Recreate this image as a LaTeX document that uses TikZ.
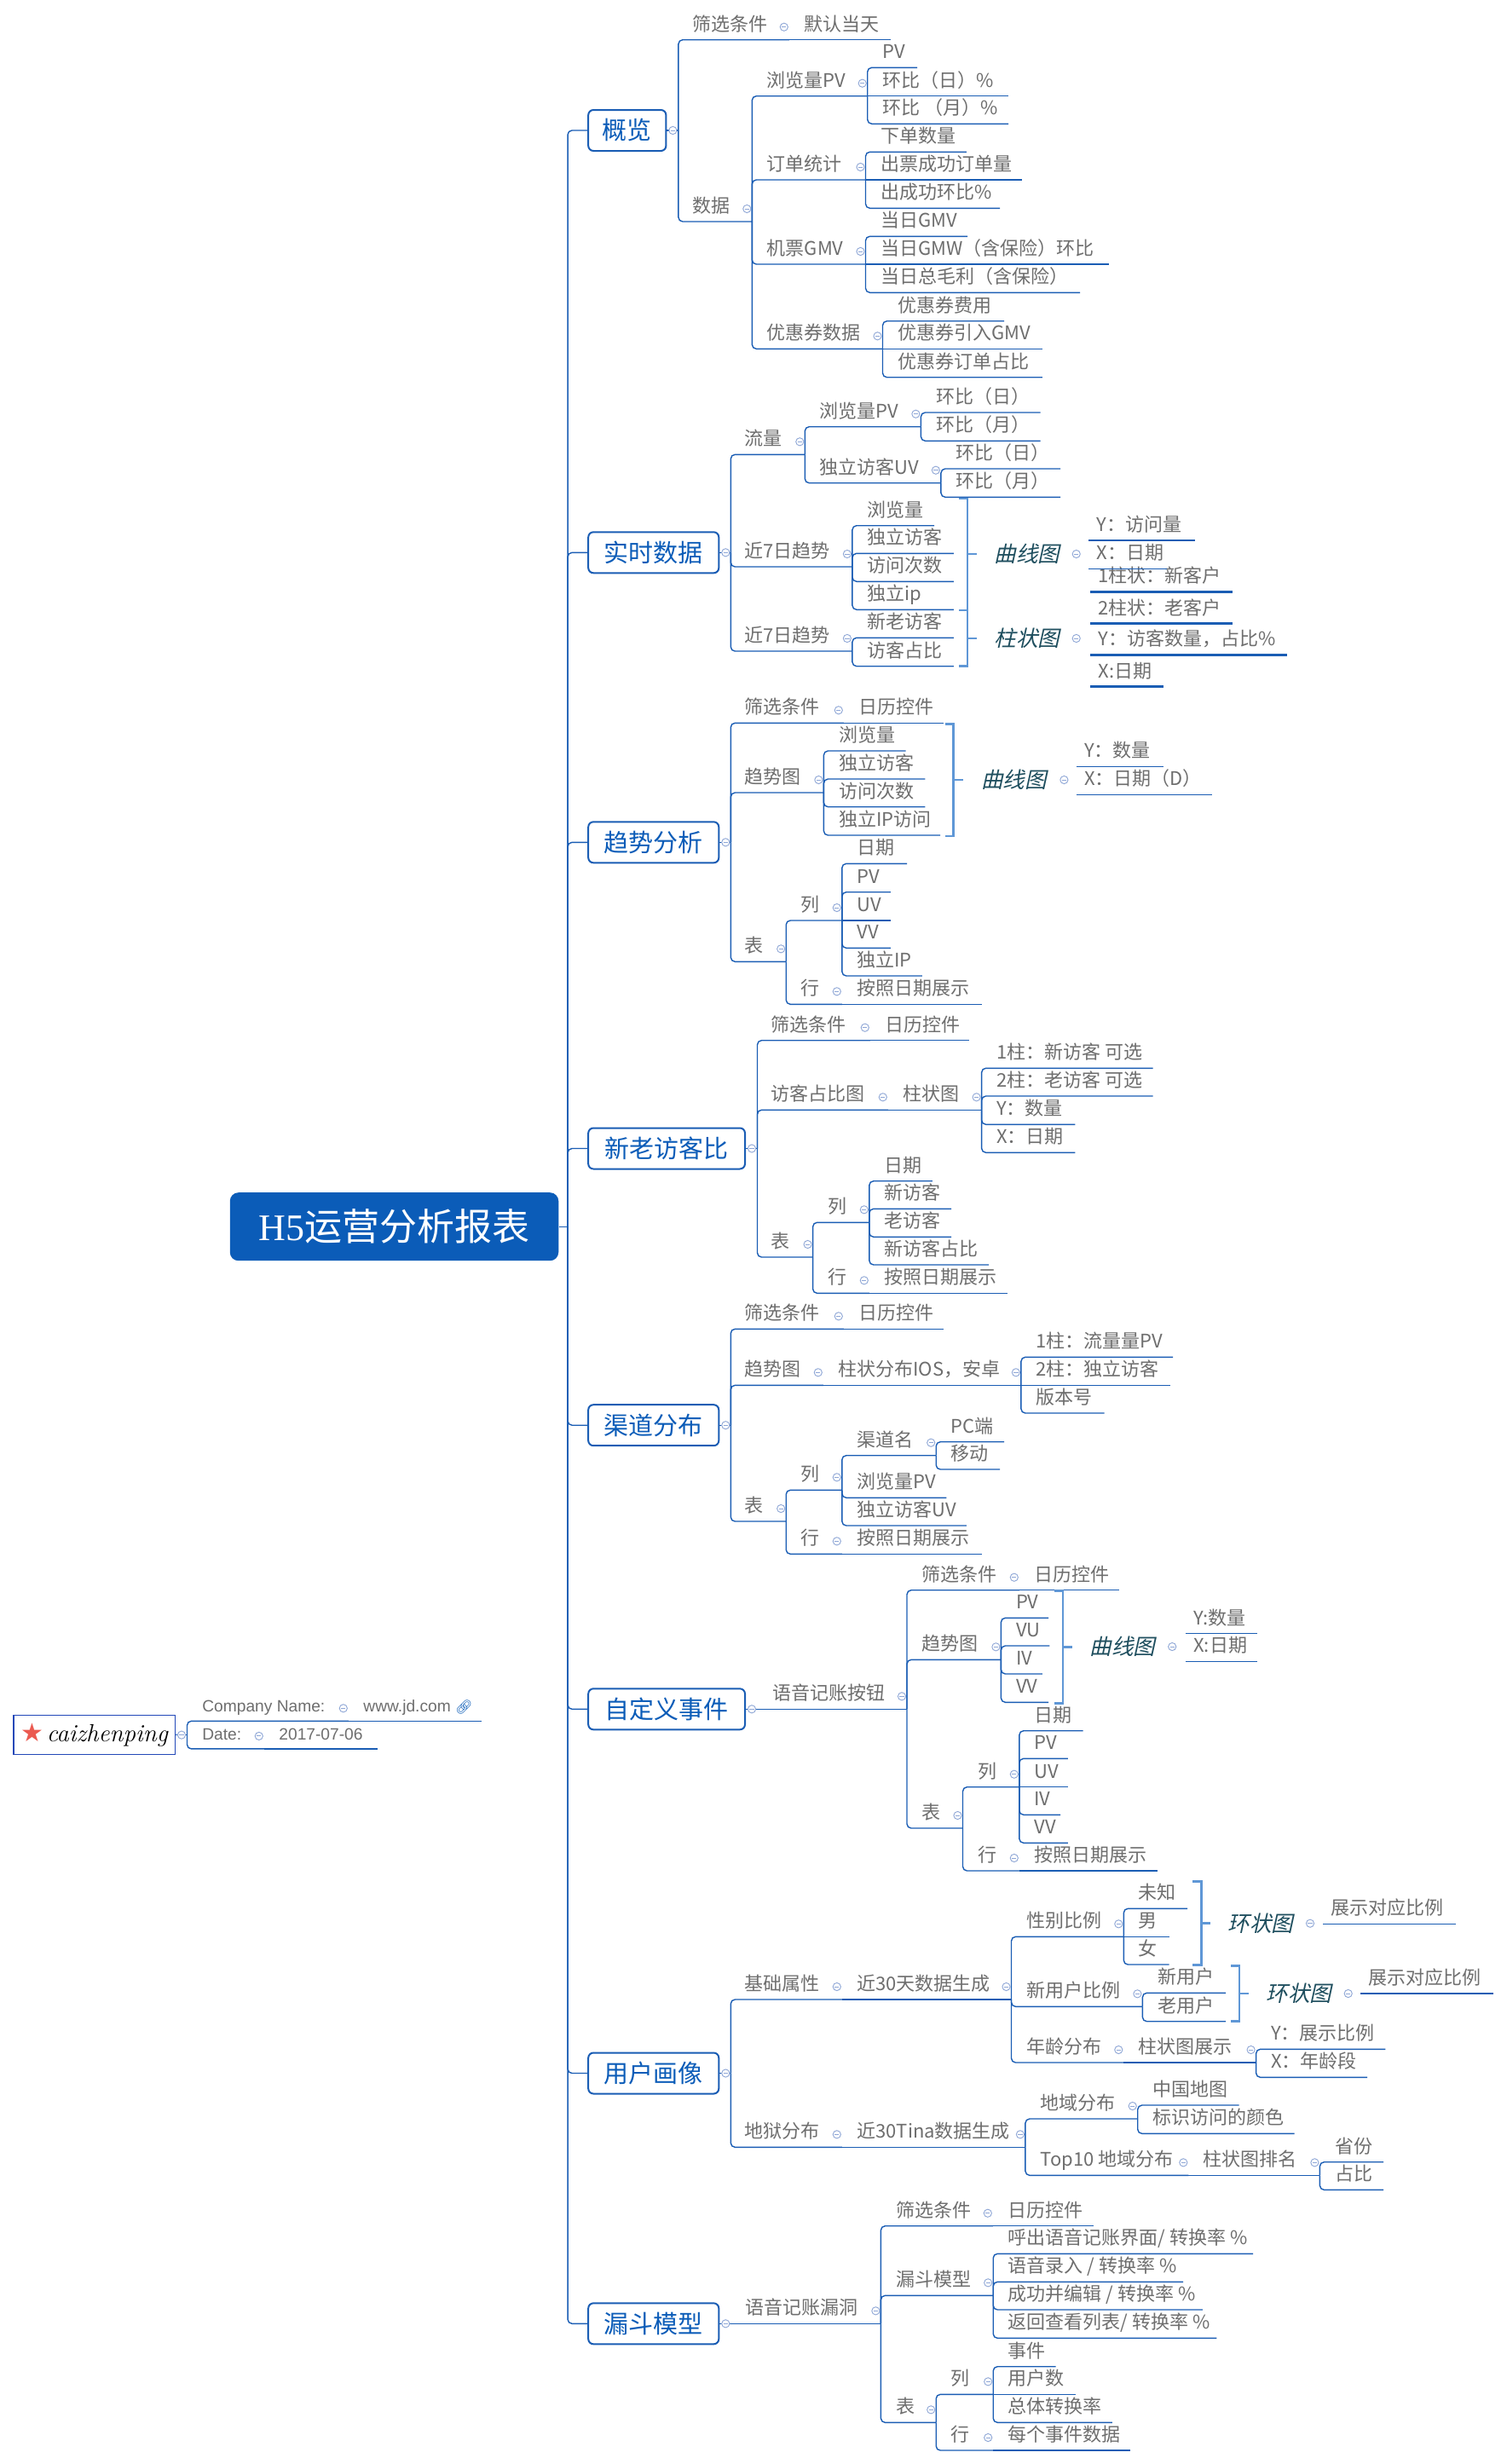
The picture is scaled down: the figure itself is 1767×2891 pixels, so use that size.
\documentclass[tikz,border=0pt]{standalone}
\usepackage{fontspec}
\newfontfamily\cjk{Noto Sans CJK SC}
\newfontfamily\cjki[FakeSlant=0.22]{Noto Sans CJK SC}
\newfontfamily\rootlat{Liberation Serif}
\newfontfamily\lsans{Liberation Sans}
\newfontfamily\djv{DejaVu Sans}
\newfontfamily\emo{Noto Emoji}
\definecolor{lnc}{HTML}{1A5DB4}
\definecolor{txc}{HTML}{6E6E6E}
\definecolor{boxc}{HTML}{0B5CB8}
\definecolor{brc}{HTML}{5F97D6}
\definecolor{cmc}{HTML}{8EA6D6}
\definecolor{smc}{HTML}{1E4E5E}
\definecolor{czc}{HTML}{2348B8}
\definecolor{starc}{HTML}{EB5A50}
\newcommand\tplpad{9pt}
\newcommand\tpc[6][]{\node[mmtp,#1] (#2) at (#3,#4) {\makebox[\dimexpr(#5pt-#3pt)/2\relax][l]{\hspace*{\tplpad}#6}};}
\newcommand\cnc[2]{\draw[mmln] (#1.south east) |- (#2.south east);}
\newcommand\cns[2]{\draw[mmln] (#1.south east) -- (#2.south east);}
\newcommand\cnj[2]{\draw[mmln] (#1) |- (#2.south east);}
\newcommand\mk[1]{\node[mmcm] (m#1) at ([xshift=-3pt,yshift=7.5pt]#1.south east) {};}
\newcommand\brk[4]{\draw[mmbr] ({#1-10},#2) -- (#1,#2) -- (#1,#3) -- ({#1-10},#3); \draw[mmbr] (#1,#4) -- ({#1+11},#4);}
\newcommand\ulin[1]{\draw[mmln] (#1.south west) -- (#1.south east);}
\newcommand\ulth[1]{\draw[mmlnt] (#1.south west) -- (#1.south east);}
\tikzset{
 mmln/.style={draw=lnc, line width=0.7pt, rounded corners=2.5pt},
 mmlnt/.style={draw=lnc, line width=1.35pt},
 mmbr/.style={draw=brc, line width=1.4pt},
 mmtp/.style={anchor=south west, inner sep=0pt, text depth=5pt, text height=10pt, font=\cjk\fontsize{11}{13}\selectfont, text=txc},
 mmsc/.style={execute at begin node={\def\tplpad{4.5pt}}},
 mmss/.style={font=\lsans\fontsize{9.6}{11}\selectfont},
 mmsm/.style={anchor=west, inner sep=0pt, font=\cjki\fontsize{12.8}{15}\selectfont, text=smc},
 mmbx/.style={draw=lnc, line width=1pt, rounded corners=3pt, fill=white, text=boxc, font=\cjk\fontsize{14.5}{17}\selectfont, minimum height=24pt, inner xsep=7pt, inner ysep=0pt, anchor=west},
 mmroot/.style={fill=boxc, rounded corners=5pt, text=white, font=\cjk\fontsize{22}{26}\selectfont, minimum width=192.75pt, minimum height=40pt, inner sep=0pt},
 mmcz/.style={draw=czc, line width=0.6pt, minimum width=94.7pt, minimum height=23pt, inner sep=0pt},
 mmcm/.style={circle, draw=cmc, fill=white, line width=0.45pt, minimum size=4.6pt, inner sep=0pt,
   path picture={\draw[cmc, line width=0.45pt] ([xshift=-1.3pt]path picture bounding box.center) -- ([xshift=1.3pt]path picture bounding box.center);}}
}
\begin{document}
\begin{tikzpicture}[x=0.5pt,y=-0.5pt]
\useasboundingbox (0,0) rectangle (1767,2891);
\fill[white] (0,0) rectangle (1767,2891);

% ---------- root and trunk
\node[mmroot] (root) at (462.5,1439.2) {{\rootlat H5}运营分析报表};
\coordinate (tj) at ([xshift=5.2pt]root.east);
\node[mmbx,minimum width=45.6pt] (b1) at (689.2,153) {概览};
\node[mmbx,minimum width=76.55pt] (b2) at (689.2,648.3) {实时数据};
\node[mmbx,minimum width=76.55pt] (b3) at (689.2,988.3) {趋势分析};
\node[mmbx,minimum width=91.9pt] (b4) at (689.2,1347.5) {新老访客比};
\node[mmbx,minimum width=76.55pt] (b5) at (689.2,1672.2) {渠道分布};
\node[mmbx,minimum width=91.9pt] (b6) at (689.2,2005.3) {自定义事件};
\node[mmbx,minimum width=76.55pt] (b7) at (689.2,2432.5) {用户画像};
\node[mmbx,minimum width=76.55pt] (b8) at (689.2,2726.3) {漏斗模型};
\draw[mmln] (root.east) -- (tj);
\foreach \b in {b1,b2,b3,b4,b5,b6,b7,b8}{\draw[mmln] (tj) |- (\b.west);}

% ---------- 概览
\coordinate (b1j) at ([xshift=6.75pt]b1.east);
\tpc{g1}{793.9}{46.7}{925}{筛选条件}
\tpc{g1a}{925}{46.7}{1044}{默认当天}
\tpc{g2}{793.9}{260}{881.5}{数据}
\tpc{g21}{881.5}{112.7}{1016.9}{浏览量PV}
\tpc{g211}{1016.9}{79.3}{1075.3}{PV}
\tpc{g212}{1016.9}{112.7}{1182.2}{环比（日）\%}
\tpc{g213}{1016.9}{145.3}{1182.2}{环比 （月）\%}
\tpc{g22}{881.5}{211}{1014.7}{订单统计}
\tpc{g221}{1014.7}{178.3}{1133}{下单数量}
\tpc{g222}{1014.7}{211}{1198.5}{出票成功订单量}
\tpc{g223}{1014.7}{244.3}{1172.2}{出成功环比\%}
\tpc{g23}{881.5}{310}{1014.7}{机票GMV}
\tpc{g231}{1014.7}{277.3}{1134.4}{当日GMV}
\tpc{g232}{1014.7}{310}{1299.7}{当日GMW（含保险）环比}
\tpc{g233}{1014.7}{343.3}{1266.2}{当日总毛利（含保险）}
\tpc{g24}{881.5}{409.3}{1034.7}{优惠券数据}
\tpc{g241}{1034.7}{376.7}{1177.2}{优惠券费用}
\tpc{g242}{1034.7}{409.3}{1222.1}{优惠券引入GMV}
\tpc{g243}{1034.7}{442.7}{1222.1}{优惠券订单占比}
\draw[mmln] (b1.east) -- (b1j);
\cnj{b1j}{g1} \cnj{b1j}{g2}
\cns{g1}{g1a}
\foreach \c in {g21,g22,g23,g24}{\cnc{g2}{\c}}
\cnc{g21}{g211} \cns{g21}{g212} \cnc{g21}{g213}
\cnc{g22}{g221} \cns{g22}{g222} \cnc{g22}{g223}
\cnc{g23}{g231} \cns{g23}{g232} \cnc{g23}{g233}
\cnc{g24}{g241} \cns{g24}{g242} \cnc{g24}{g243}
\node[mmcm] (mb1) at ([xshift=3.5pt]b1.east) {};
\mk{g1} \mk{g2} \mk{g21} \mk{g22} \mk{g23} \mk{g24}

% ---------- 实时数据
\coordinate (b2j) at ([xshift=6.5pt]b2.east);
\tpc{s1}{855.2}{533.3}{943.5}{流量}
\tpc{s11}{943.5}{500.7}{1079.6}{浏览量PV}
\tpc{s111}{1079.6}{484}{1219.9}{环比（日）}
\tpc{s112}{1079.6}{517.3}{1219.9}{环比（月）}
\tpc{s12}{943.5}{566.7}{1103.1}{独立访客UV}
\tpc{s121}{1103.1}{550}{1243.4}{环比（日）}
\tpc{s122}{1103.1}{583.3}{1243.4}{环比（月）}
\tpc{s2}{855.2}{665}{999.1}{近7日趋势}
\tpc{s21}{999.1}{616.7}{1095.3}{浏览量}
\tpc{s22}{999.1}{649.3}{1118}{独立访客}
\tpc{s23}{999.1}{682.3}{1118}{访问次数}
\tpc{s24}{999.1}{715.3}{1118}{独立ip}
\tpc{s3}{855.2}{764}{999.1}{近7日趋势}
\tpc{s31}{999.1}{748.3}{1118}{新老访客}
\tpc{s32}{999.1}{781.7}{1118}{访客占比}
\draw[mmln] (b2.east) -- (b2j);
\cnj{b2j}{s1} \cnj{b2j}{s2} \cnj{b2j}{s3}
\cnc{s1}{s11} \cnc{s1}{s12}
\cnc{s11}{s111} \cnc{s11}{s112}
\cnc{s12}{s121} \cnc{s12}{s122}
\foreach \c in {s21,s22,s23,s24}{\cnc{s2}{\c}}
\cnc{s3}{s31} \cnc{s3}{s32}
\node[mmcm] (mb2) at ([xshift=3.5pt]b2.east) {};
\mk{s1} \mk{s11} \mk{s12} \mk{s2} \mk{s3}
\brk{1135}{585}{716}{650}
\brk{1135}{716}{781.7}{749}
\node[mmsm] (q1) at (1166,650) {曲线图};
\node[mmsm] (q2) at (1166,749) {柱状图};
\node[mmcm] (mq1) at (1262.7,650) {};
\node[mmcm] (mq2) at (1262.7,749) {};
\tpc[mmsc]{q1a}{1277.3}{634}{1400.7}{Y：访问量}
\tpc[mmsc]{q1b}{1277.3}{667.3}{1368.3}{X：日期}
\tpc[mmsc]{q2a}{1279}{694.3}{1445}{1柱状：新客户}
\tpc[mmsc]{q2b}{1279}{731.7}{1445}{2柱状：老客户}
\tpc[mmsc]{q2c}{1279}{768.3}{1509.3}{Y：访客数量，占比\%}
\tpc[mmsc]{q2d}{1279}{805.7}{1364.3}{X:日期}
\ulin{q1a} \ulin{q1b}
\ulth{q2a} \ulth{q2b} \ulth{q2c} \ulth{q2d}

% ---------- 趋势分析
\coordinate (b3j) at ([xshift=6.5pt]b3.east);
\tpc{t1}{855.2}{848.3}{989}{筛选条件}
\tpc{t1a}{989}{848.3}{1105.9}{日历控件}
\tpc{t2}{855.2}{930}{965.6}{趋势图}
\tpc{t21}{965.6}{881}{1061.8}{浏览量}
\tpc{t22}{965.6}{914}{1084.6}{独立访客}
\tpc{t23}{965.6}{946.7}{1084.6}{访问次数}
\tpc{t24}{965.6}{980}{1102.4}{独立IP访问}
\tpc{t3}{855.2}{1128.3}{921.4}{表}
\tpc{t31}{921.4}{1080}{987}{列}
\tpc{t311}{987}{1013.3}{1063.2}{日期}
\tpc{t312}{987}{1046.7}{1044}{PV}
\tpc{t313}{987}{1080}{1044}{UV}
\tpc{t314}{987}{1112.3}{1044}{VV}
\tpc{t315}{987}{1145}{1081}{独立IP}
\tpc{t32}{921.4}{1178.3}{987}{行}
\tpc{t32a}{987}{1178.3}{1150.8}{按照日期展示}
\draw[mmln] (b3.east) -- (b3j);
\cnj{b3j}{t1} \cnj{b3j}{t2} \cnj{b3j}{t3}
\cns{t1}{t1a}
\foreach \c in {t21,t22,t23,t24}{\cnc{t2}{\c}}
\cnc{t3}{t31} \cnc{t3}{t32}
\cnc{t31}{t311} \cnc{t31}{t312} \cns{t31}{t313} \cnc{t31}{t314} \cnc{t31}{t315}
\cns{t32}{t32a}
\node[mmcm] (mb3) at ([xshift=3.5pt]b3.east) {};
\mk{t1} \mk{t2} \mk{t3} \mk{t31} \mk{t32}
\brk{1118.8}{849.3}{981}{915}
\node[mmsm] (q3) at (1150.8,915) {曲线图};
\node[mmcm] (mq3) at (1248.4,915) {};
\tpc[mmsc]{q3a}{1262.7}{899.3}{1363.8}{Y：数量}
\tpc[mmsc]{q3b}{1262.7}{932.3}{1421.5}{X：日期（D）}
\ulin{q3a} \ulin{q3b}

% ---------- 新老访客比
\coordinate (b4j) at ([xshift=6.75pt]b4.east);
\tpc{n1}{886.5}{1220.7}{1020}{筛选条件}
\tpc{n1a}{1020}{1220.7}{1136.6}{日历控件}
\tpc{n2}{886.5}{1302.3}{1041}{访客占比图}
\tpc{n2a}{1041}{1302.3}{1150.8}{柱状图}
\tpc{n2a1}{1150.8}{1253.3}{1351.7}{1柱：新访客 可选}
\tpc{n2a2}{1150.8}{1286}{1351.7}{2柱：老访客 可选}
\tpc{n2a3}{1150.8}{1319.3}{1260.5}{Y：数量}
\tpc{n2a4}{1150.8}{1352.3}{1260.5}{X：日期}
\tpc{n3}{886.5}{1475}{952.8}{表}
\tpc{n31}{952.8}{1434.3}{1019}{列}
\tpc{n311}{1019}{1385.7}{1093.1}{日期}
\tpc{n312}{1019}{1418.3}{1115.2}{新访客}
\tpc{n313}{1019}{1451.3}{1115.2}{老访客}
\tpc{n314}{1019}{1484}{1159.4}{新访客占比}
\tpc{n32}{952.8}{1517.3}{1019}{行}
\tpc{n32a}{1019}{1517.3}{1180.7}{按照日期展示}
\draw[mmln] (b4.east) -- (b4j);
\cnj{b4j}{n1} \cnj{b4j}{n2} \cnj{b4j}{n3}
\cns{n1}{n1a} \cns{n2}{n2a}
\foreach \c in {n2a1,n2a2,n2a3,n2a4}{\cnc{n2a}{\c}}
\cnc{n3}{n31} \cnc{n3}{n32}
\foreach \c in {n311,n312,n313,n314}{\cnc{n31}{\c}}
\cns{n32}{n32a}
\node[mmcm] (mb4) at ([xshift=3.5pt]b4.east) {};
\mk{n1} \mk{n2} \mk{n2a} \mk{n3} \mk{n31} \mk{n32}

% ---------- 渠道分布
\coordinate (b5j) at ([xshift=6.5pt]b5.east);
\tpc{c1}{855.2}{1559.3}{989}{筛选条件}
\tpc{c1a}{989}{1559.3}{1105.9}{日历控件}
\tpc{c2}{855.2}{1625.3}{965}{趋势图}
\tpc{c2a}{965}{1625.3}{1197.1}{柱状分布IOS，安卓}
\tpc{c2a1}{1197.1}{1592.3}{1375.2}{1柱：流量量PV}
\tpc{c2a2}{1197.1}{1625.3}{1371.7}{2柱：独立访客}
\tpc{c2a3}{1197.1}{1658}{1294.7}{版本号}
\tpc{c3}{855.2}{1785}{921.4}{表}
\tpc{c31}{921.4}{1748.3}{987}{列}
\tpc{c311}{987}{1707.7}{1097.4}{渠道名}
\tpc{c3111}{1097.4}{1691.7}{1177.2}{PC端}
\tpc{c3112}{1097.4}{1724}{1172.2}{移动}
\tpc{c312}{987}{1757.3}{1109.5}{浏览量PV}
\tpc{c313}{987}{1790}{1133}{独立访客UV}
\tpc{c32}{921.4}{1823.3}{987}{行}
\tpc{c32a}{987}{1823.3}{1150.8}{按照日期展示}
\draw[mmln] (b5.east) -- (b5j);
\cnj{b5j}{c1} \cnj{b5j}{c2} \cnj{b5j}{c3}
\cns{c1}{c1a} \cns{c2}{c2a}
\cnc{c2a}{c2a1} \cns{c2a}{c2a2} \cnc{c2a}{c2a3}
\cnc{c3}{c31} \cnc{c3}{c32}
\cnc{c31}{c311} \cnc{c31}{c312} \cnc{c31}{c313}
\cnc{c311}{c3111} \cnc{c311}{c3112}
\cns{c32}{c32a}
\node[mmcm] (mb5) at ([xshift=3.5pt]b5.east) {};
\mk{c1} \mk{c2} \mk{c2a} \mk{c3} \mk{c31} \mk{c311} \mk{c32}

% ---------- 自定义事件
\tpc{e1}{888}{2005.3}{1063.2}{语音记账按钮}
\tpc{e11}{1063.2}{1865.7}{1195}{筛选条件}
\tpc{e11a}{1195}{1865.7}{1312.5}{日历控件}
\tpc{e12}{1063.2}{1947.3}{1173.6}{趋势图}
\tpc{e121}{1173.6}{1898.3}{1229.2}{PV}
\tpc{e122}{1173.6}{1931}{1230.6}{VU}
\tpc{e123}{1173.6}{1964}{1222.1}{IV}
\tpc{e124}{1173.6}{1997.3}{1229.2}{VV}
\tpc{e13}{1063.2}{2145}{1128.7}{表}
\tpc{e131}{1128.7}{2096.7}{1195}{列}
\tpc{e1311}{1195}{2030.7}{1269.8}{日期}
\tpc{e1312}{1195}{2063.3}{1252}{PV}
\tpc{e1313}{1195}{2096.7}{1252}{UV}
\tpc{e1314}{1195}{2129.3}{1243.4}{IV}
\tpc{e1315}{1195}{2162.3}{1252}{VV}
\tpc{e132}{1128.7}{2195}{1195}{行}
\tpc{e132a}{1195}{2195}{1357.4}{按照日期展示}
\draw[mmln] (b6.east) -- (e1.south east);
\cnc{e1}{e11} \cnc{e1}{e12} \cnc{e1}{e13}
\cns{e11}{e11a}
\foreach \c in {e121,e122,e123,e124}{\cnc{e12}{\c}}
\cnc{e13}{e131} \cnc{e13}{e132}
\cnc{e131}{e1311} \cnc{e131}{e1312} \cns{e131}{e1313} \cnc{e131}{e1314} \cnc{e131}{e1315}
\cns{e132}{e132a}
\node[mmcm] (mb6) at ([xshift=3.5pt]b6.east) {};
\mk{e1} \mk{e11} \mk{e12} \mk{e13} \mk{e131} \mk{e132}
\brk{1247}{1866.7}{1998.3}{1932.3}
\node[mmsm] (q4) at (1278.3,1932) {曲线图};
\node[mmcm] (mq4) at (1375.2,1932) {};
\tpc[mmsc]{q4a}{1390.9}{1916.7}{1474.2}{Y:数量}
\tpc[mmsc]{q4b}{1390.9}{1949.3}{1474.2}{X:日期}
\ulin{q4a} \ulin{q4b}

% ---------- 用户画像
\coordinate (b7j) at ([xshift=6.5pt]b7.east);
\tpc{u1}{855.2}{2346}{987}{基础属性}
\tpc{u1a}{987}{2346}{1185.7}{近30天数据生成}
\tpc{u1a1}{1185.7}{2272.3}{1317.5}{性别比例}
\tpc{u1a11}{1317.5}{2239.3}{1392.3}{未知}
\tpc{u1a12}{1317.5}{2272.3}{1370.9}{男}
\tpc{u1a13}{1317.5}{2305}{1370.9}{女}
\tpc{u1a2}{1185.7}{2354.3}{1339.6}{新用户比例}
\tpc{u1a21}{1339.6}{2338.3}{1437.2}{新用户}
\tpc{u1a22}{1339.6}{2371.7}{1437.2}{老用户}
\tpc{u1a3}{1185.7}{2420}{1317.5}{年龄分布}
\tpc{u1a3a}{1317.5}{2420}{1472.8}{柱状图展示}
\tpc{u1a3a1}{1472.8}{2404.3}{1624.6}{Y：展示比例}
\tpc{u1a3a2}{1472.8}{2437.3}{1603.2}{X：年龄段}
\tpc{u2}{855.2}{2519.3}{987}{地狱分布}
\tpc{u2a}{987}{2519.3}{1202.1}{近30Tina数据生成}
\tpc{u2a1}{1202.1}{2486}{1333.9}{地域分布}
\tpc{u2a11}{1333.9}{2470}{1452.9}{中国地图}
\tpc{u2a12}{1333.9}{2503.3}{1517.7}{标识访问的颜色}
\tpc{u2a2}{1202.1}{2552.3}{1393.5}{Top10 地域分布}
\tpc{u2a2a}{1393.5}{2552.3}{1547.6}{柱状图排名}
\tpc{u2a2a1}{1547.6}{2536.7}{1622.4}{省份}
\tpc{u2a2a2}{1547.6}{2569.3}{1622.4}{占比}
\draw[mmln] (b7.east) -- (b7j);
\cnj{b7j}{u1} \cnj{b7j}{u2}
\cns{u1}{u1a}
\cnc{u1a}{u1a1} \cnc{u1a}{u1a2} \cnc{u1a}{u1a3}
\cnc{u1a1}{u1a11} \cns{u1a1}{u1a12} \cnc{u1a1}{u1a13}
\cnc{u1a2}{u1a21} \cnc{u1a2}{u1a22}
\cns{u1a3}{u1a3a}
\cnc{u1a3a}{u1a3a1} \cnc{u1a3a}{u1a3a2}
\cns{u2}{u2a}
\cnc{u2a}{u2a1} \cnc{u2a}{u2a2}
\cnc{u2a1}{u2a11} \cnc{u2a1}{u2a12}
\cns{u2a2}{u2a2a}
\cnc{u2a2a}{u2a2a1} \cnc{u2a2a}{u2a2a2}
\node[mmcm] (mb7) at ([xshift=3.5pt]b7.east) {};
\mk{u1} \mk{u1a} \mk{u1a1} \mk{u1a2} \mk{u1a3} \mk{u1a3a}
\mk{u2} \mk{u2a} \mk{u2a1} \mk{u2a2} \mk{u2a2a}
\brk{1409.3}{2207.3}{2305.7}{2256.7}
\brk{1454}{2306.7}{2371.7}{2339}
\node[mmsm] (q5) at (1440,2256.5) {环状图};
\node[mmsm] (q6) at (1485,2338.5) {环状图};
\node[mmcm] (mq5) at (1537,2256.7) {};
\node[mmcm] (mq6) at (1581.7,2339) {};
\tpc[mmsc]{q5a}{1552.3}{2257.3}{1706.7}{展示对应比例}
\tpc[mmsc]{q6a}{1596}{2339}{1750.7}{展示对应比例}
\ulin{q5a} \ulin{q6a}

% ---------- 漏斗模型
\tpc{f1}{856.4}{2726.3}{1032.6}{语音记账漏洞}
\tpc{f11}{1032.6}{2611.7}{1164}{筛选条件}
\tpc{f11a}{1164}{2611.7}{1282.6}{日历控件}
\tpc{f12}{1032.6}{2693.3}{1164.4}{漏斗模型}
\tpc{f121}{1164.4}{2644.3}{1469.2}{呼出语音记账界面/ 转换率 \%}
\tpc{f122}{1164.4}{2677.3}{1387.3}{语音录入 / 转换率 \%}
\tpc{f123}{1164.4}{2710}{1410.1}{成功并编辑 / 转换率 \%}
\tpc{f124}{1164.4}{2743.3}{1426.5}{返回查看列表/ 转换率 \%}
\tpc{f13}{1032.6}{2842.3}{1097.4}{表}
\tpc{f131}{1097.4}{2809.3}{1164.4}{列}
\tpc{f1311}{1164.4}{2776.7}{1237.7}{事件}
\tpc{f1312}{1164.4}{2809.3}{1261.2}{用户数}
\tpc{f1313}{1164.4}{2842.3}{1304}{总体转换率}
\tpc{f132}{1097.4}{2875}{1164.4}{行}
\tpc{f132a}{1164.4}{2875}{1325.3}{每个事件数据}
\draw[mmln] (b8.east) -- (f1.south east);
\cnc{f1}{f11} \cnc{f1}{f12} \cnc{f1}{f13}
\cns{f11}{f11a}
\foreach \c in {f121,f122,f123,f124}{\cnc{f12}{\c}}
\cnc{f13}{f131} \cnc{f13}{f132}
\cnc{f131}{f1311} \cns{f131}{f1312} \cnc{f131}{f1313}
\cns{f132}{f132a}
\node[mmcm] (mb8) at ([xshift=3.5pt]b8.east) {};
\mk{f1} \mk{f11} \mk{f12} \mk{f13} \mk{f131} \mk{f132}

% ---------- floating author node
\node[mmcz] (cz) at (110.7,2035.6) {{\djv\color{starc}\fontsize{15}{16}\selectfont ★}\,{\itshape\fontsize{14.5}{16}\selectfont caizhenping}};
\coordinate (czj) at ([xshift=6.75pt]cz.east);
\tpc[mmss]{k1}{218.9}{2019.3}{408}{Company Name:}
\tpc[mmss]{k1a}{408}{2019.3}{564}{www.jd.com {\emo\color{boxc}\fontsize{8}{9}\selectfont 🔗}}
\tpc[mmss]{k2}{218.9}{2051.9}{309}{Date:}
\tpc[mmss]{k2a}{309}{2051.9}{442}{2017-07-06}
\draw[mmln] (cz.east) -- (czj);
\cnj{czj}{k1} \cnj{czj}{k2}
\cns{k1}{k1a} \cns{k2}{k2a}
\node[mmcm] (mcz) at ([xshift=3.5pt]cz.east) {};
\mk{k1} \mk{k2}
\end{tikzpicture}
\end{document}
